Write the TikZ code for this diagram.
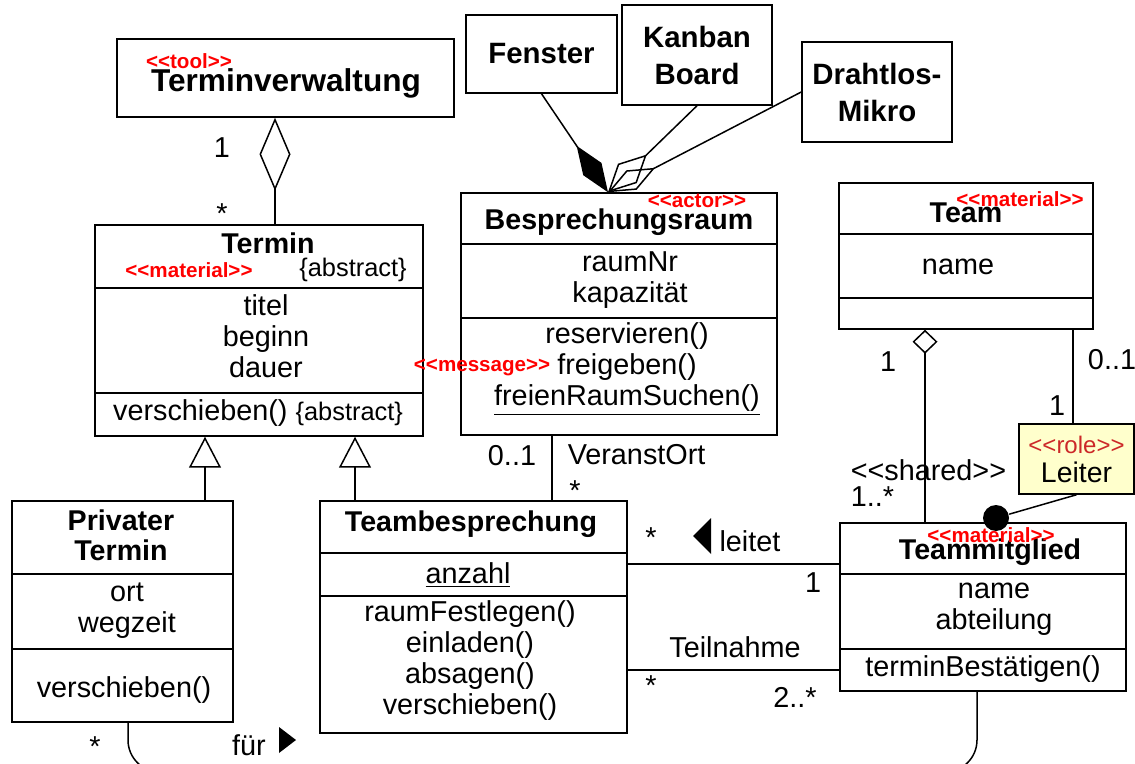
\documentclass[tikz,border=0pt]{standalone}
\usepackage{fontspec}
\setmainfont{Liberation Sans}
\usetikzlibrary{arrows.meta,positioning}
\definecolor{rolered}{RGB}{204,40,40}
\definecolor{notefill}{RGB}{255,255,204}
\newcommand{\stereo}[1]{<{}<#1>{}>}

\begin{document}
\begin{tikzpicture}[x=0.5pt,y=-0.5pt,line width=0.75pt,
  cls/.style={draw,inner sep=0pt},
  ttl/.style={font=\fontsize{14.3}{15}\selectfont\bfseries,inner sep=0pt,align=center},
  txt/.style={font=\fontsize{14.4}{15.5}\selectfont,inner sep=0pt,align=center},
  ster/.style={text=red,font=\fontsize{10.3}{11}\selectfont\bfseries,inner sep=0pt},
  big/.style={cls,font=\fontsize{14.7}{18.5}\selectfont\bfseries,align=center},
  gen/.style={-{Triangle[open,length=15.5pt,width=16pt]}}]
\useasboundingbox (0,0) rectangle (1135,764);
\clip (0,0) rectangle (1135,764);

% boxes
\node[cls,minimum width=168.5pt,minimum height=39pt] (tverw) at (285.5,78) {};
\node[cls,minimum width=164pt,minimum height=105.5pt] (termin) at (259,330.5) {};
\node[cls,minimum width=110.5pt,minimum height=110.5pt] (priv) at (122.5,611.5) {};
\node[cls,minimum width=153.5pt,minimum height=116pt] (teamb) at (473.5,617) {};
\node[cls,minimum width=158pt,minimum height=121pt] (raum) at (619,314) {};
\node[cls,minimum width=127pt,minimum height=73pt] (team) at (966,256) {};
\node[cls,minimum width=143pt,minimum height=84pt] (mitgl) at (983,607) {};
\node[big,minimum width=75.5pt,minimum height=39pt] (fenster) at (541.5,54) {Fenster};
\node[big,minimum width=75pt,minimum height=50pt] (kanban) at (697,55) {Kanban\\Board};
\node[big,minimum width=75pt,minimum height=50pt] (mikro) at (877,92) {Drahtlos-\\Mikro};
\node[cls,fill=notefill,minimum width=57.5pt,minimum height=35pt,align=center,
  font=\fontsize{14.2}{14.5}\selectfont] (leiter) at (1076.5,459)
  {{\color{rolered}\fontsize{12}{12}\selectfont\stereo{role}}\\Leiter};

\foreach \n/\y in {termin/288,termin/393,priv/574,priv/649,teamb/553,teamb/596,
  raum/244,raum/318,team/234,team/298,mitgl/574,mitgl/649}
  \draw (\n.west |- 0,\y) -- (\n.east |- 0,\y);

% texts
\node[ttl,font=\fontsize{15.8}{16}\selectfont\bfseries] (tverw-t) at (286,83) {Terminverwaltung};
\node[ster] (tverw-st) at (189,61) {\stereo{tool}};
\node[ttl] (termin-t) at (268,243) {Termin};
\node[ster] (termin-st) at (189,270) {\stereo{material}};
\node[txt,font=\fontsize{12.7}{14}\selectfont] (termin-abs) at (353,270) {\{abstract\}};
\node[txt] (termin-a) at (266,336) {titel\\beginn\\dauer};
\node[txt] (termin-m) at (258,413) {verschieben() {\fontsize{12.7}{14}\selectfont\{abstract\}}};
\node[ttl] (priv-t) at (121,535) {Privater\\Termin};
\node[txt] (priv-a) at (127,611) {ort\\wegzeit};
\node[txt] (priv-m) at (124,690) {verschieben()};
\node[ttl] (teamb-t) at (471,524) {Teambesprechung};
\node[txt] (teamb-a) at (468,575) {\underline{anzahl}};
\node[txt] (teamb-m) at (470,661) {raumFestlegen()\\einladen()\\absagen()\\verschieben()};
\node[ttl] (raum-t) at (619,222) {Besprechungsraum};
\node[ster] (raum-st) at (697,201) {\stereo{actor}};
\node[txt] (raum-a) at (630,280) {raumNr\\kapazität};
\node[txt] (raum-m) at (627,369) {reservieren()\\freigeben()\\\underline{freienRaumSuchen()}};
\node[ster,anchor=east] (raum-msg) at (551,368) {\stereo{message}};
\node[ttl] (team-t) at (966,213) {Team};
\node[ster] (team-st) at (1020,199) {\stereo{material}};
\node[txt] (team-a) at (958,267) {name};
\node[ttl] (mitgl-t) at (990,552) {Teammitglied};
\node[ster] (mitgl-st) at (991,535) {\stereo{material}};
\node[txt] (mitgl-a) at (994,609) {name\\abteilung};
\node[txt] (mitgl-m) at (983,669) {terminBestätigen()};

% connectors
\draw[-{Diamond[open,length=36.5pt,width=15.5pt]}] (termin.north -| 275,0) -- (tverw.south -| 275,0);
\draw[gen] (priv.north -| 205,0) -- (termin.south -| 205,0);
\draw[gen] (teamb.north -| 355,0) -- (termin.south -| 355,0);
\draw (raum.south -| 552,0) -- (teamb.north -| 552,0);
\draw[-{Diamond[length=28pt,width=11pt]}] (fenster.south) -- (raum.north -| 608,0);
\draw[-{Diamond[open,length=27pt,width=13.5pt]}] (kanban.south) -- (raum.north -| 608,0);
\draw[-{Diamond[open,length=26.5pt,width=11pt]}] (mikro.west) -- (raum.north -| 608,0);
\draw[-{Diamond[open,length=12pt,width=12.5pt]}] (mitgl.north -| 925,0) -- (team.south -| 925,0);
\draw (team.south -| 1073,0) -- (leiter.north -| 1073,0);
\node[circle,fill,inner sep=0pt,minimum size=13pt] (dot) at (996,518) {};
\draw (leiter.south) -- (dot);
\draw (teamb.east |- 0,564) -- (mitgl.west |- 0,564);
\draw (teamb.east |- 0,670) -- (mitgl.west |- 0,670);
\draw[rounded corners=16pt] (priv.south -| 128,0) -- (128,772) -- (977,772) -- (mitgl.south -| 977,0);
\fill (693,536) -- (711,518) -- (711,554) -- cycle;
\fill (296,740) -- (279,727) -- (279,753) -- cycle;

% labels
\node[txt] (m1) at (222,148) {1};
\node[txt] (m2) at (222,214) {*};
\node[txt] (m3) at (512,456) {0..1};
\node[txt,anchor=west] (veranst) at (567,455) {VeranstOrt};
\node[txt] (m4) at (575,491) {*};
\node[txt] (m5) at (651,538) {*};
\node[txt] (leitet) at (750,541) {leitet};
\node[txt] (m6) at (813,583) {1};
\node[txt] (teiln) at (735,647) {Teilnahme};
\node[txt] (m7) at (651,686) {*};
\node[txt] (m8) at (795,697) {2..*};
\node[txt] (m9) at (95,747) {*};
\node[txt] (fuer) at (249,745) {für};
\node[txt] (m10) at (888,362) {1};
\node[txt,anchor=west] (shared) at (850,470) {\stereo{shared}};
\node[txt,anchor=west] (m11) at (850,497) {1..*};
\node[txt] (m12) at (1112,360) {0..1};
\node[txt] (m13) at (1057,406) {1};
\end{tikzpicture}
\end{document}
